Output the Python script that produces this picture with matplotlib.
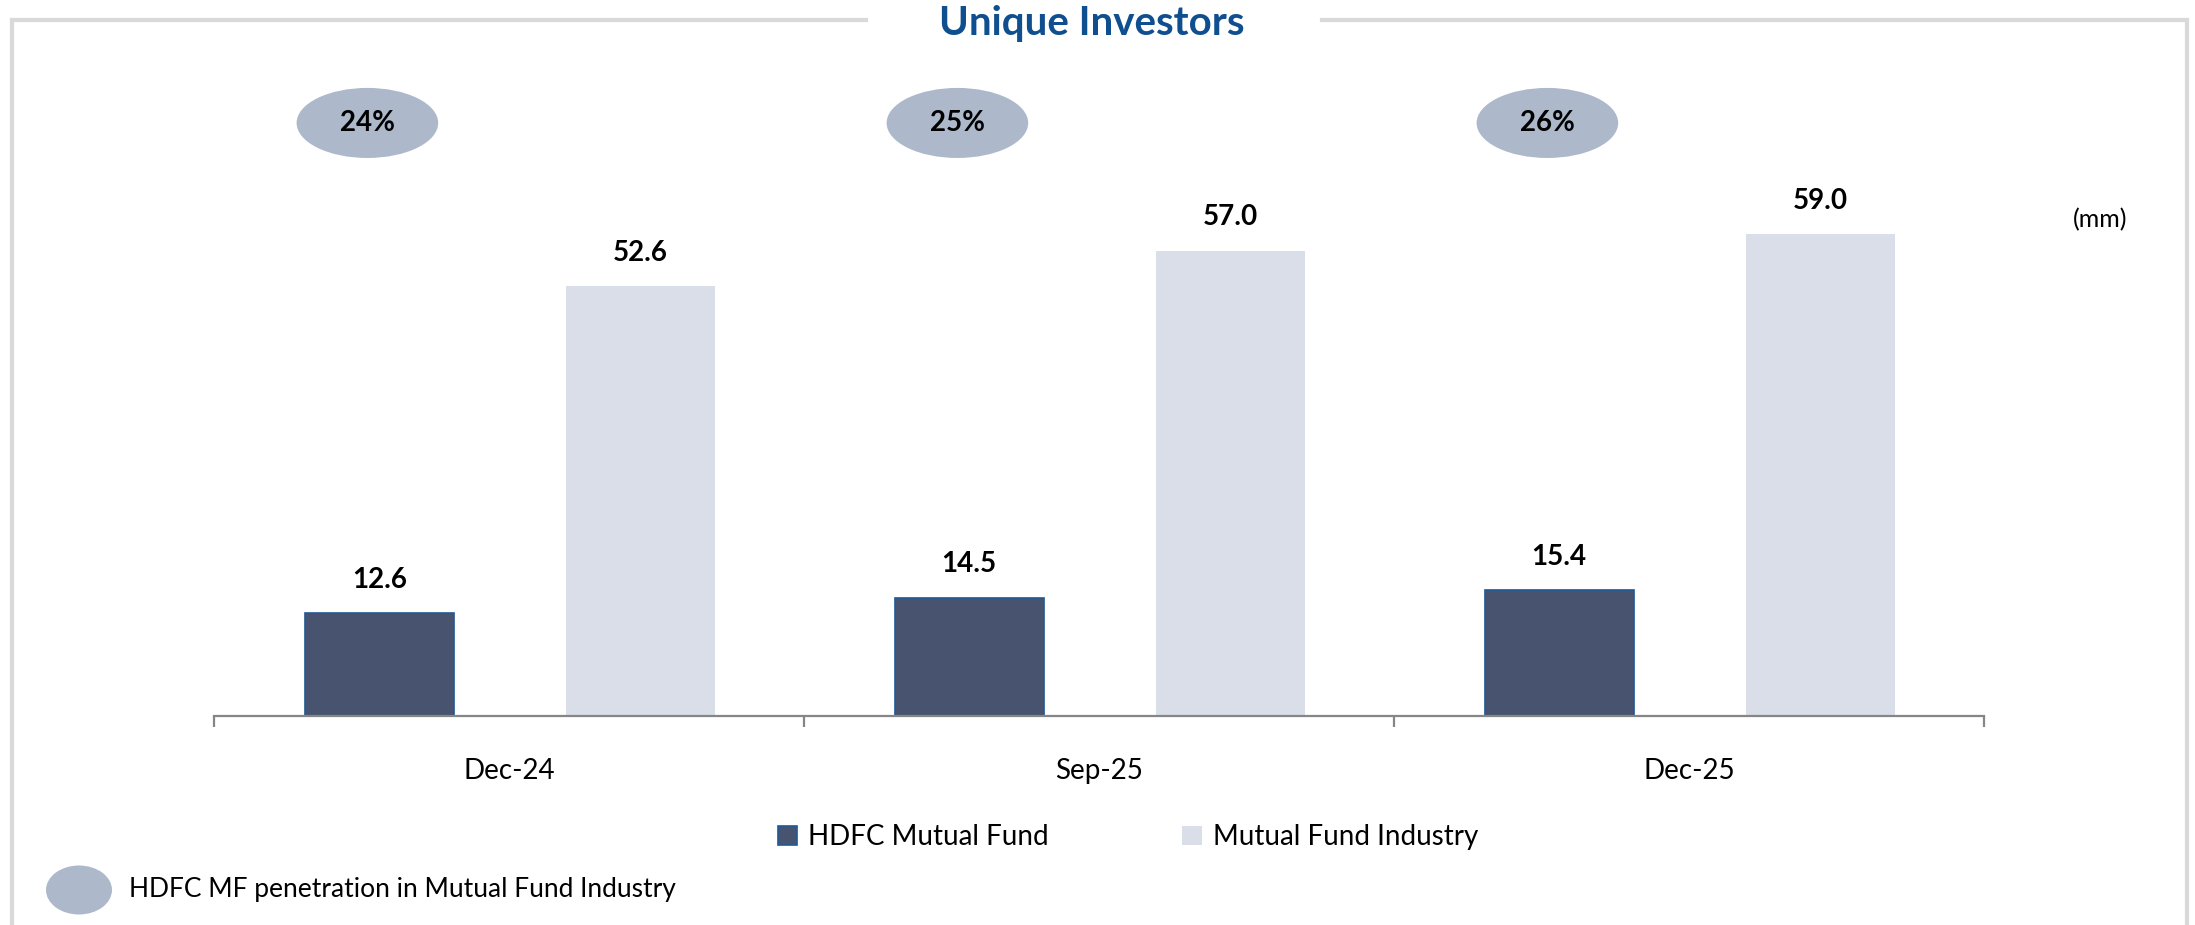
import numpy as np
import matplotlib.pyplot as plt
from matplotlib.patches import Ellipse
from matplotlib.lines import Line2D

plt.rcParams['font.family'] = ['Lato', 'DejaVu Sans']

periods = ['Dec-24', 'Sep-25', 'Dec-25']
hdfc = [12.6, 14.5, 15.4]
industry = [52.6, 57.0, 59.0]
penetration = ['24%', '25%', '26%']

dark = '#47536F'
light = '#D9DEE8'
oval = '#ADB9CB'

W, H = 2195, 925
fig = plt.figure(figsize=(W / 100, H / 100), dpi=100)

# axes box in pixels: x 214..1984, baseline y 716
ax = fig.add_axes([214 / W, (H - 716) / H, 1770 / W, 637 / H])
x = np.arange(len(periods))
bw = 0.252
b1 = ax.bar(x - 0.22, hdfc, bw, color=dark, edgecolor='#1F5A96', linewidth=1.2,
            label='HDFC Mutual Fund')
b2 = ax.bar(x + 0.223, industry, bw, color=light, edgecolor=light, linewidth=0,
            label='Mutual Fund Industry')

for bars in (b1, b2):
    for r in bars:
        ax.annotate(f'{r.get_height():.1f}', (r.get_x() + r.get_width() / 2, r.get_height()),
                    xytext=(0, 24), textcoords='offset points', ha='center', va='center',
                    fontsize=20, fontweight='bold', color='black')

# penetration ovals
for i, p in enumerate(penetration):
    e = Ellipse((i - 0.24, 0.931), 0.24, 0.11, transform=ax.get_xaxis_transform(),
                facecolor=oval, edgecolor='none', clip_on=False)
    ax.add_patch(e)
    ax.text(i - 0.24, 0.931, p, transform=ax.get_xaxis_transform(), ha='center',
            va='center', fontsize=20, fontweight='bold', color='black')

ax.set_xlim(-0.5, 2.5)
ax.set_ylim(0, 78)
for s in ['top', 'right', 'left']:
    ax.spines[s].set_visible(False)
ax.spines['bottom'].set_color('#868686')
ax.spines['bottom'].set_linewidth(1.6)
ax.set_yticks([])
ax.set_xticks([-0.5, 0.5, 1.5, 2.5])
ax.set_xticklabels([])
ax.tick_params(axis='x', which='major', length=8, width=1.6, color='#868686', direction='out')
ax.set_xticks(x, minor=True)
ax.set_xticklabels(periods, minor=True, fontsize=20)
ax.tick_params(axis='x', which='minor', length=0, pad=30)

# title and unit
fig.text(1092 / W, 1 - 24 / H, 'Unique Investors', ha='center', va='center',
         fontsize=29, fontweight='bold', color='#0F4F8F')
fig.text(2100 / W, 1 - 220 / H, '(mm)', ha='center', va='center', fontsize=18)

# frame lines
fc = '#D9D9D9'
def px(xp, yp):
    return [v / W for v in xp], [1 - v / H for v in yp]
for xs, ys in [([12, 12], [20, 925]), ([12, 866], [20, 20]), ([1322, 2187], [20, 20]),
               ([2187, 2187], [20, 925])]:
    a, b = px(xs, ys)
    fig.add_artist(Line2D(a, b, color=fc, linewidth=3))

# legend for bars
leg = fig.legend(handles=[b1, b2], loc='center', bbox_to_anchor=(1128 / W, 1 - 837 / H),
                 ncol=2, frameon=False, fontsize=20, handlelength=0.7, handleheight=0.7,
                 handletextpad=0.4, columnspacing=4.8)

# oval legend
fig.add_artist(Ellipse((79 / W, 1 - 890 / H), 66 / W, 49 / H, transform=fig.transFigure,
                       facecolor=oval, edgecolor='none'))
fig.text(129 / W, 1 - 890 / H, 'HDFC MF penetration in Mutual Fund Industry', ha='left',
         va='center', fontsize=19)

fig.savefig('out.png', dpi=100)
